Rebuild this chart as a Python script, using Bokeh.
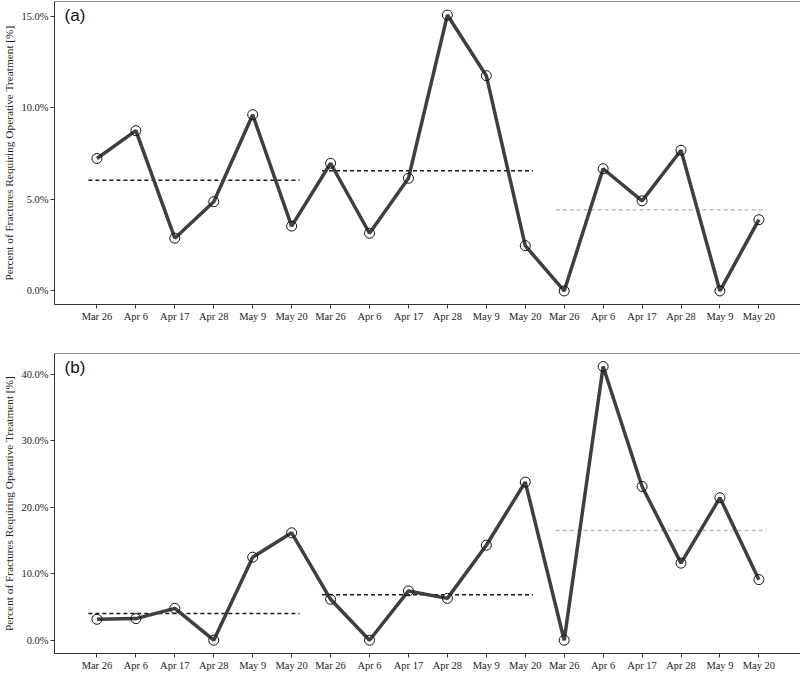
from bokeh.plotting import figure
from bokeh.models import FixedTicker, PrintfTickFormatter, Range1d, Label, ColumnDataSource
from bokeh.layouts import column
from bokeh.embed import file_html
from bokeh.resources import INLINE

# ---- data ----
dates = ["Mar 26", "Apr 6", "Apr 17", "Apr 28", "May 9", "May 20"]
tick_labels = dates * 3

# Panel (a)
a_vals = [7.23, 8.75, 2.88, 4.87, 9.62, 3.54,
          6.97, 3.15, 6.15, 15.06, 11.75, 2.47,
          0.0, 6.67, 4.92, 7.68, 0.0, 3.89]
a_means = [6.04, 6.56, 4.43]

# Panel (b)
b_vals = [3.15, 3.25, 4.80, 0.0, 12.5, 16.17,
          6.16, 0.0, 7.42, 6.30, 14.3, 23.8,
          0.0, 41.2, 23.15, 11.6, 21.45, 9.12]
b_means = [4.03, 6.84, 16.5]

mean_colors = ["#1a1a1a", "#1a1a1a", "#bdbdbd"]
ylabel = "Percent of Fractures Requiring Operative Treatment [%]"

SERIF = "Liberation Serif"


def make_panel(vals, means, yticks, yrange, letter, frame_h, top_b, bot_b):
    x = list(range(len(vals)))
    p = figure(output_backend="svg", toolbar_location=None,
               frame_width=748, frame_height=frame_h,
               min_border_left=43, min_border_right=0,
               min_border_top=top_b, min_border_bottom=bot_b,
               x_range=Range1d(-1.09, 18.12), y_range=Range1d(*yrange))
    p.background_fill_color = "white"
    p.border_fill_color = "white"
    p.outline_line_color = "#8c8c8c"
    p.outline_line_width = 1
    p.xgrid.visible = False
    p.ygrid.visible = False

    # group mean dashed lines
    for g in range(3):
        s = g * 6
        p.line([s - 0.22, s + 5 + 0.2], [means[g], means[g]],
               line_color=mean_colors[g], line_width=1.5, line_dash="4 3")

    src = ColumnDataSource(dict(x=x, y=vals))
    p.line("x", "y", source=src, line_color="#3f3f3f", line_width=3.5)
    p.scatter("x", "y", source=src, size=10, marker="circle",
              fill_color=None, line_color="#111111", line_width=1)

    p.xaxis.ticker = FixedTicker(ticks=x)
    p.xaxis.major_label_overrides = {i: t for i, t in enumerate(tick_labels)}
    p.yaxis.ticker = FixedTicker(ticks=yticks)
    p.yaxis.formatter = PrintfTickFormatter(format="%.1f%%")

    for ax in (p.xaxis[0], p.yaxis[0]):
        ax.axis_line_color = "#333333"
        ax.axis_line_width = 1
        ax.major_tick_line_color = "#333333"
        ax.major_tick_out = 4
        ax.major_tick_in = 0
        ax.minor_tick_line_color = None
        ax.major_label_text_font = SERIF
        ax.major_label_text_font_size = "10.5px"
        ax.major_label_text_color = "#222222"
        ax.major_label_standoff = 2

    p.yaxis.axis_label = ylabel
    p.yaxis.axis_label_text_font = SERIF
    p.yaxis.axis_label_text_font_size = "11.3px"
    p.yaxis.axis_label_text_font_style = "normal"
    p.yaxis.axis_label_text_color = "#222222"
    p.yaxis.axis_label_standoff = 3

    span = yrange[1] - yrange[0]
    lab = Label(x=-0.83, y=yrange[1] - span * 0.015, text=letter,
                text_font="Liberation Sans", text_font_size="17px",
                text_color="#111111", text_baseline="top", text_align="left")
    p.add_layout(lab)
    return p


pa = make_panel(a_vals, a_means, [0, 5, 10, 15], (-0.74, 15.8), "(a)", 303, 1, 45)
pb = make_panel(b_vals, b_means, [0, 10, 20, 30, 40], (-2.0, 43.16), "(b)", 300, 4, 20)

layout = column(pa, pb, spacing=0)
open("out.html", "w").write(file_html(layout, INLINE))
